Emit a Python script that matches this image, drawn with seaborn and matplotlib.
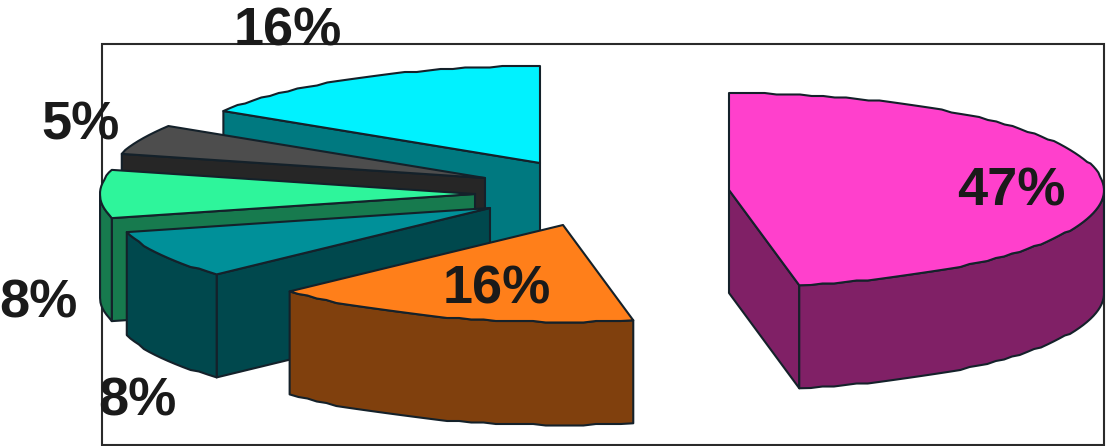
import numpy as np
import matplotlib
matplotlib.use("Agg")
import matplotlib.pyplot as plt
import seaborn as sns

# data
labels = ["47%", "16%", "8%", "8%", "5%", "16%"]
shares = [47, 16, 8, 8, 5, 16]

# style
top_colors = ["#FF40CC", "#FF7F1A", "#009099", "#2EF59B", "#4D4D4D", "#00F2FF"]
side_colors = ["#802066", "#80400D", "#00484D", "#177A4E", "#262626", "#007980"]
# exploded centre of every slice (pixel space of the frame)
centres = [(729, 190), (563, 225), (490, 208), (475, 194), (485, 178), (540, 163)]
label_pos = [(1011, 192), (497, 290), (137, 401), (38, 304), (80, 126), (288, 32)]
RX, RY, DEPTH = 375, 97, 103
EDGE = "#14212a"

sns.set_theme(style="white")
fig, ax = plt.subplots(figsize=(11.06, 4.46), dpi=100)
ax.set_position([0, 0, 1, 1])
ax.set_xlim(0, 1106)
ax.set_ylim(446, 0)
ax.axis("off")
ax.add_patch(plt.Rectangle((101.5, 44), 1002.5, 400.5, fc="white", ec="#2a2a2a", lw=1.5, zorder=0))


def point(c, a):
    # rim is stepped on a fine grid like the reference's scalloped outline
    x = c[0] + RX * np.cos(a)
    y = c[1] - RY * np.sin(a)
    return x, np.round(y / 1.5) * 1.5


def poly(pts, color, z):
    ax.fill(*zip(*pts), fc=color, ec=EDGE, lw=1.5, joinstyle="round", zorder=z)


edges = 90 - 3.6 * np.concatenate([[0], np.cumsum(shares)])
order = [5, 4, 3, 2, 1, 0]  # back to front
down = lambda p: (p[0], p[1] + DEPTH)
for z, i in enumerate(order):
    c = centres[i]
    a0, a1 = np.radians(edges[i]), np.radians(edges[i + 1])
    n = max(5, int(abs(edges[i + 1] - edges[i]) / 1.8))
    t = np.linspace(a0, a1, n)
    arc = [point(c, v) for v in t]
    arc[0] = (c[0] + RX * np.cos(a0), c[1] - RY * np.sin(a0))
    arc[-1] = (c[0] + RX * np.cos(a1), c[1] - RY * np.sin(a1))
    base = 10 + 5 * z
    # only the cut face that looks towards the viewer is drawn
    if np.cos(a0) < -1e-6:
        poly([c, arc[0], down(arc[0]), down(c)], side_colors[i], base)
    if np.cos(a1) > 1e-6:
        poly([c, arc[-1], down(arc[-1]), down(c)], side_colors[i], base + 1)
    # outer wall: only where the rim faces the viewer
    front = [p for v, p in zip(t, arc) if np.sin(v) <= 0]
    if len(front) > 1:
        poly(front + [down(p) for p in front[::-1]], side_colors[i], base + 2)
    # top face
    poly([c] + arc, top_colors[i], base + 3)

for lab, (x, y) in zip(labels, label_pos):
    ax.text(x, y, lab, ha="center", va="center", fontsize=39, fontweight="bold",
            family="Liberation Sans", color="#1a1a1a", zorder=100)

fig.savefig("out.png", dpi=100)
